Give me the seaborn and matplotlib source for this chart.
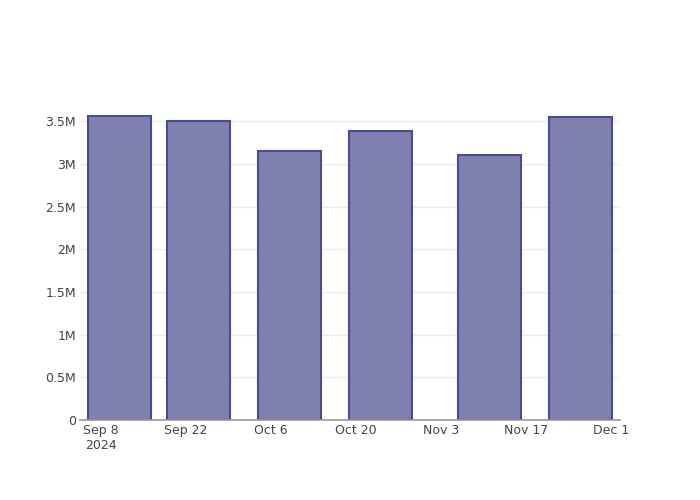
import matplotlib
matplotlib.use('Agg')
import matplotlib.pyplot as plt
import matplotlib.dates as mdates
from matplotlib.ticker import FixedLocator, FuncFormatter
import pandas as pd
import seaborn as sns


# --------------- DATA -----------------
bar_dates = ["2024-09-11", "2024-09-24", "2024-10-09", "2024-10-24", "2024-11-11", "2024-11-26"]
bar_values = [3.56e6, 3.50e6, 3.15e6, 3.39e6, 3.11e6, 3.55e6]

tick_dates = ["2024-09-08", "2024-09-22", "2024-10-06", "2024-10-20", "2024-11-03", "2024-11-17", "2024-12-01"]
tick_labels = ["Sep 8\n2024", "Sep 22", "Oct 6", "Oct 20", "Nov 3", "Nov 17", "Dec 1"]
y_ticks = [0, 0.5e6, 1e6, 1.5e6, 2e6, 2.5e6, 3e6, 3.5e6]


def fmt_millions(v, pos):
    if v == 0:
        return "0"
    return f"{v / 1e6:g}M"


def main():
    sns.set_theme(style="white")
    plt.rcParams['font.family'] = ['DejaVu Sans']

    df = pd.DataFrame({
        "date": mdates.date2num(pd.to_datetime(bar_dates)),
        "value": bar_values,
    })

    fig = plt.figure(figsize=(7, 5), dpi=100)
    ax = fig.add_axes([80 / 700, 80 / 500, 540 / 700, 320 / 500])

    sns.barplot(data=df, x="date", y="value", native_scale=True, width=0.8,
                color="#7f7fb0", saturation=1, edgecolor="#4b4b93",
                linewidth=1.5, ax=ax, zorder=3)

    # axis range like the original (a little padding around the bars)
    x0 = mdates.date2num(pd.Timestamp("2024-09-04 12:00"))
    x1 = mdates.date2num(pd.Timestamp("2024-12-02 12:00"))
    ax.set_xlim(x0, x1)
    ax.set_ylim(0, 3.75e6)

    ax.xaxis.set_major_locator(FixedLocator(mdates.date2num(pd.to_datetime(tick_dates))))
    ax.set_xticklabels(tick_labels)
    ax.yaxis.set_major_locator(FixedLocator(y_ticks))
    ax.yaxis.set_major_formatter(FuncFormatter(fmt_millions))

    ax.tick_params(axis='both', length=0, labelsize=9, colors="#444444")
    ax.tick_params(axis='x', pad=3)
    ax.tick_params(axis='y', pad=3)

    ax.grid(axis='y', color="#ebebeb", linewidth=0.9, zorder=0)
    ax.grid(axis='x', visible=False)
    for side in ['top', 'right', 'left']:
        ax.spines[side].set_visible(False)
    ax.spines['bottom'].set_color("#999999")
    ax.spines['bottom'].set_linewidth(1.2)
    ax.spines['bottom'].set_zorder(4)

    ax.set_xlabel("")
    ax.set_ylabel("")

    fig.savefig("out.png", dpi=100)


if __name__ == "__main__":
    main()
